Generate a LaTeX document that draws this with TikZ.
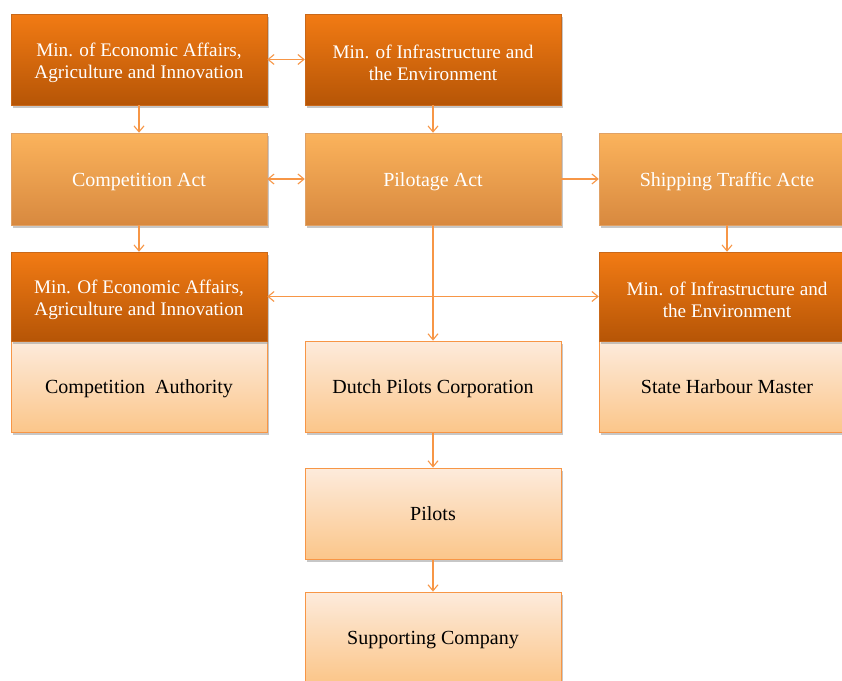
\documentclass[tikz,border=0pt]{standalone}
\usepackage{fontspec}
\setmainfont{Liberation Serif}
\usetikzlibrary{arrows.meta,shadows}
\definecolor{acc}{HTML}{F79646}
\definecolor{darktop}{HTML}{F27B14}
\definecolor{darkbot}{HTML}{B65506}
\definecolor{midtop}{HTML}{FBB35C}
\definecolor{midbot}{HTML}{D8893F}
\definecolor{lighttop}{HTML}{FDEBDC}
\definecolor{lightbot}{HTML}{FBC68A}
\definecolor{shd}{HTML}{9A9A9A}
\newcommand{\mytopstrut}{\rule{0pt}{19.5pt}}
\tikzset{
  box/.style={minimum width=256pt, minimum height=91pt, inner sep=0pt, align=center,
    font=\fontsize{20}{22}\selectfont},
  onebox/.style={text height=17pt, text depth=2.5pt},
  shd/.style={drop shadow={shadow xshift=2pt, shadow yshift=-2.5pt, fill=shd, opacity=0.55}},
  darkbox/.style={box, shd, top color=darktop, bottom color=darkbot, draw=darkbot!70!acc, line width=0.5pt, text=white,
    font=\fontsize{19.2}{22}\selectfont},
  midbox/.style={box, onebox, shd, top color=midtop, bottom color=midbot, draw=midbot!80!white, line width=0.5pt, text=white},
  lightbox/.style={box, onebox, shd, top color=lighttop, bottom color=lightbot, draw=acc, line width=0.8pt, text=black},
  conn/.style={draw=acc, line width=1.1pt, arrows={-Straight Barb[length=6pt,width=10pt]}},
  bconn/.style={draw=acc, line width=1.1pt, arrows={Straight Barb[length=6pt,width=10pt]-Straight Barb[length=6pt,width=10pt]}}
}
\begin{document}
\begin{tikzpicture}[x=1pt,y=-1pt]
\useasboundingbox (0,0) rectangle (842,680);
\clip (0,0) rectangle (842,680);
\fill[white] (0,0) rectangle (842,680);
% row 1
\node[darkbox] (econ1) at (139,59.5) {\mytopstrut Min. of Economic Affairs,\\Agriculture and Innovation};
\node[darkbox] (infra1) at (433,59.5) {\mytopstrut Min. of Infrastructure and\\the Environment};
% row 2
\node[midbox, minimum height=92pt] (comp) at (139,179) {Competition Act};
\node[midbox, minimum height=92pt] (pilot) at (433,179) {Pilotage Act};
\node[midbox, minimum height=92pt] (ship) at (727,179) {Shipping Traffic Acte};
% row 3
\node[lightbox] (cauth) at (139,386.5) {Competition\ \ Authority};
\node[lightbox] (dpc) at (433,386.5) {Dutch Pilots Corporation};
\node[lightbox] (shm) at (727,386.5) {State Harbour Master};
\node[darkbox, minimum height=89pt] (econ2) at (139,296.5) {\mytopstrut Min. Of Economic Affairs,\\Agriculture and Innovation};
\node[darkbox, minimum height=89pt] (infra2) at (727,296.5) {\mytopstrut Min. of Infrastructure and\\the Environment};
% lower
\node[lightbox] (pilots) at (433,513.5) {Pilots};
\node[lightbox, minimum height=90pt] (supp) at (433,637) {Supporting Company};
% connectors
\draw[bconn] (econ1) -- (infra1);
\draw[conn] (econ1) -- (comp);
\draw[conn] (infra1) -- (pilot);
\draw[bconn] (comp) -- (pilot);
\draw[conn] (pilot) -- (ship);
\draw[conn] (comp) -- (econ2);
\draw[conn] (ship) -- (infra2);
\draw[conn] (pilot) -- (dpc);
\draw[bconn] (econ2) -- (infra2);
\draw[conn] (dpc) -- (pilots);
\draw[conn] (pilots) -- (supp);
\end{tikzpicture}
\end{document}
